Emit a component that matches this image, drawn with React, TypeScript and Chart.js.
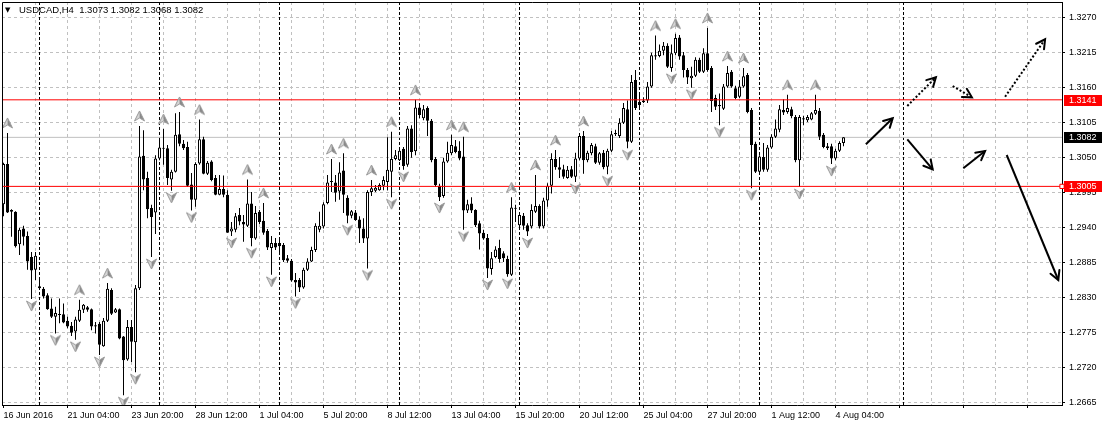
import React, { useEffect, useRef } from 'react';
import { Chart, registerables } from 'chart.js';

Chart.register(...registerables);

// ---- Data (USDCAD H4) ----
const openP = [
  1.2977, 1.3040, 1.2968, 1.2965, 1.2914, 1.2939, 1.2927, 1.2894, 1.2874, 1.2848,
  1.2844, 1.2834, 1.2813, 1.2800, 1.2804, 1.2804, 1.2794, 1.2786, 1.2777, 1.2794,
  1.2811, 1.2815, 1.2812, 1.2787, 1.2789, 1.2754, 1.2794, 1.2842, 1.2807, 1.2812,
  1.2769, 1.2733, 1.2784, 1.2760, 1.2845, 1.3053, 1.3018, 1.2971, 1.2964, 1.3049,
  1.3065, 1.3065, 1.3016, 1.3028, 1.3087, 1.3072, 1.3067, 1.3008, 1.2984, 1.3041,
  1.3079, 1.3025, 1.3044, 1.3018, 1.2992, 1.3001, 1.2992, 1.2934, 1.2937, 1.2960,
  1.2949, 1.2943, 1.2978, 1.2923, 1.2965, 1.2951, 1.2935, 1.2908, 1.2916, 1.2916,
  1.2913, 1.2892, 1.2888, 1.2858, 1.2858, 1.2846, 1.2874, 1.2887, 1.2905, 1.2937,
  1.2942, 1.2979, 1.3012, 1.3011, 1.2997, 1.3030, 1.2987, 1.2959, 1.2964, 1.2953,
  1.2939, 1.2923, 1.2996, 1.2998, 1.2999, 1.3006, 1.3012, 1.3028, 1.3048, 1.3046,
  1.3064, 1.3039, 1.3096, 1.3060, 1.3129, 1.3112, 1.3128, 1.3108, 1.3048, 1.3006,
  1.2990, 1.3044, 1.3057, 1.3068, 1.3061, 1.3052, 1.2967, 1.2978, 1.2968, 1.2947,
  1.2932, 1.2924, 1.2875, 1.2894, 1.2908, 1.2900, 1.2891, 1.2866, 1.2971, 1.2944,
  1.2959, 1.2944, 1.2942, 1.2965, 1.2974, 1.2942, 1.2983, 1.3006, 1.3048, 1.3035,
  1.3032, 1.3018, 1.3032, 1.3020, 1.3049, 1.3084, 1.3046, 1.3057, 1.3068, 1.3042,
  1.3058, 1.3036, 1.3061, 1.3089, 1.3084, 1.3105, 1.3126, 1.3075, 1.3172, 1.3138,
  1.3137, 1.3140, 1.3162, 1.3211, 1.3210, 1.3218, 1.3226, 1.3191, 1.3214, 1.3239,
  1.3211, 1.3188, 1.3175, 1.3179, 1.3204, 1.3185, 1.3214, 1.3191, 1.3144, 1.3133,
  1.3127, 1.3162, 1.3185, 1.3159, 1.3146, 1.3162, 1.3180, 1.3125, 1.3072, 1.3028,
  1.3051, 1.3031, 1.3066, 1.3083, 1.3094, 1.3125, 1.3122, 1.3126, 1.3114, 1.3046,
  1.3112, 1.3109, 1.3110, 1.3119, 1.3124, 1.3086, 1.3068, 1.3068, 1.3049, 1.3061,
  1.3073,
];
const highP = [
  1.3042, 1.3089, 1.2969, 1.2966, 1.2940, 1.2943, 1.2934, 1.2902, 1.2902, 1.2861,
  1.2847, 1.2837, 1.2829, 1.2816, 1.2829, 1.2821, 1.2800, 1.2792, 1.2800, 1.2827,
  1.2820, 1.2817, 1.2813, 1.2792, 1.2792, 1.2798, 1.2853, 1.2845, 1.2814, 1.2813,
  1.2770, 1.2795, 1.2795, 1.2850, 1.3100, 1.3093, 1.3028, 1.2976, 1.3054, 1.3078,
  1.3095, 1.3070, 1.3031, 1.3120, 1.3122, 1.3078, 1.3075, 1.3026, 1.3043, 1.3110,
  1.3083, 1.3045, 1.3046, 1.3023, 1.3023, 1.3022, 1.2999, 1.2949, 1.2963, 1.2971,
  1.2960, 1.3016, 1.2996, 1.2974, 1.2968, 1.2979, 1.2938, 1.2927, 1.2924, 1.2925,
  1.2916, 1.2897, 1.2891, 1.2869, 1.2861, 1.2877, 1.2892, 1.2910, 1.2947, 1.2965,
  1.2980, 1.3023, 1.3048, 1.3023, 1.3043, 1.3057, 1.2991, 1.2968, 1.2968, 1.2958,
  1.2955, 1.2999, 1.3015, 1.3007, 1.3010, 1.3021, 1.3082, 1.3091, 1.3062, 1.3065,
  1.3067, 1.3100, 1.3101, 1.3141, 1.3136, 1.3133, 1.3131, 1.3111, 1.3051, 1.3009,
  1.3050, 1.3075, 1.3086, 1.3078, 1.3076, 1.3083, 1.2984, 1.2988, 1.2969, 1.2951,
  1.2937, 1.2930, 1.2902, 1.2911, 1.2921, 1.2903, 1.2896, 1.2988, 1.2976, 1.2963,
  1.2963, 1.2947, 1.2977, 1.3023, 1.2977, 1.2987, 1.3010, 1.3057, 1.3062, 1.3051,
  1.3039, 1.3037, 1.3037, 1.3058, 1.3089, 1.3092, 1.3061, 1.3073, 1.3072, 1.3059,
  1.3062, 1.3064, 1.3092, 1.3094, 1.3112, 1.3136, 1.3140, 1.3180, 1.3188, 1.3149,
  1.3145, 1.3169, 1.3215, 1.3242, 1.3228, 1.3232, 1.3230, 1.3228, 1.3245, 1.3243,
  1.3216, 1.3191, 1.3193, 1.3208, 1.3207, 1.3222, 1.3254, 1.3194, 1.3149, 1.3151,
  1.3166, 1.3194, 1.3188, 1.3163, 1.3172, 1.3191, 1.3183, 1.3128, 1.3075, 1.3054,
  1.3073, 1.3070, 1.3087, 1.3110, 1.3133, 1.3142, 1.3149, 1.3130, 1.3117, 1.3117,
  1.3116, 1.3117, 1.3122, 1.3149, 1.3128, 1.3089, 1.3073, 1.3072, 1.3064, 1.3076,
  1.3082,
];
const lowP = [
  1.2958, 1.2963, 1.2926, 1.2909, 1.2897, 1.2912, 1.2874, 1.2828, 1.2858, 1.2842,
  1.2829, 1.2811, 1.2798, 1.2774, 1.2790, 1.2790, 1.2782, 1.2770, 1.2764, 1.2792,
  1.2806, 1.2808, 1.2779, 1.2774, 1.2740, 1.2753, 1.2792, 1.2803, 1.2806, 1.2765,
  1.2677, 1.2731, 1.2729, 1.2713, 1.2842, 1.2999, 1.2955, 1.2894, 1.2930, 1.3046,
  1.3039, 1.3007, 1.2998, 1.3027, 1.3068, 1.3062, 1.3004, 1.2967, 1.2973, 1.3039,
  1.3024, 1.3023, 1.3013, 1.2991, 1.2991, 1.2988, 1.2932, 1.2927, 1.2933, 1.2944,
  1.2918, 1.2941, 1.2911, 1.2921, 1.2946, 1.2929, 1.2905, 1.2866, 1.2905, 1.2902,
  1.2886, 1.2885, 1.2855, 1.2832, 1.2839, 1.2844, 1.2872, 1.2886, 1.2902, 1.2933,
  1.2939, 1.2977, 1.2996, 1.2981, 1.2984, 1.2963, 1.2947, 1.2955, 1.2951, 1.2916,
  1.2916, 1.2876, 1.2990, 1.2996, 1.2998, 1.2999, 1.2999, 1.2988, 1.3046, 1.3045,
  1.3031, 1.3036, 1.3050, 1.3054, 1.3112, 1.3109, 1.3084, 1.3043, 1.3004, 1.2982,
  1.2987, 1.3042, 1.3054, 1.3057, 1.3046, 1.2937, 1.2963, 1.2963, 1.2941, 1.2906,
  1.2921, 1.2861, 1.2866, 1.2892, 1.2885, 1.2886, 1.2863, 1.2864, 1.2949, 1.2941,
  1.2937, 1.2927, 1.2939, 1.2963, 1.2939, 1.2939, 1.2973, 1.2994, 1.3031, 1.3018,
  1.3017, 1.3017, 1.3018, 1.3012, 1.3046, 1.3025, 1.3043, 1.3054, 1.3040, 1.3039,
  1.3032, 1.3024, 1.3059, 1.3084, 1.3081, 1.3103, 1.3065, 1.3073, 1.3125, 1.3128,
  1.3136, 1.3136, 1.3160, 1.3204, 1.3208, 1.3211, 1.3191, 1.3185, 1.3211, 1.3204,
  1.3176, 1.3166, 1.3160, 1.3177, 1.3183, 1.3183, 1.3185, 1.3122, 1.3125, 1.3101,
  1.3125, 1.3160, 1.3160, 1.3142, 1.3144, 1.3160, 1.3120, 1.3002, 1.3026, 1.3026,
  1.3028, 1.3028, 1.3064, 1.3081, 1.3090, 1.3117, 1.3119, 1.3112, 1.3043, 1.3004,
  1.3101, 1.3106, 1.3109, 1.3117, 1.3078, 1.3065, 1.3062, 1.3040, 1.3046, 1.3059,
  1.3068,
];
const closeP = [
  1.3040, 1.2964, 1.2965, 1.2911, 1.2937, 1.2926, 1.2887, 1.2873, 1.2896, 1.2845,
  1.2832, 1.2812, 1.2800, 1.2806, 1.2803, 1.2791, 1.2785, 1.2775, 1.2796, 1.2811,
  1.2819, 1.2811, 1.2785, 1.2785, 1.2756, 1.2794, 1.2844, 1.2805, 1.2812, 1.2766,
  1.2732, 1.2784, 1.2761, 1.2845, 1.3052, 1.3016, 1.2969, 1.2957, 1.3049, 1.3066,
  1.3064, 1.3018, 1.3028, 1.3086, 1.3072, 1.3065, 1.3006, 1.2984, 1.3040, 1.3079,
  1.3025, 1.3042, 1.3015, 1.2992, 1.3001, 1.2992, 1.2932, 1.2939, 1.2958, 1.2950,
  1.2945, 1.2978, 1.2924, 1.2963, 1.2949, 1.2932, 1.2909, 1.2916, 1.2909, 1.2911,
  1.2889, 1.2888, 1.2857, 1.2854, 1.2846, 1.2874, 1.2887, 1.2905, 1.2943, 1.2943,
  1.2977, 1.3011, 1.3013, 1.2995, 1.3027, 1.2992, 1.2959, 1.2966, 1.2952, 1.2939,
  1.2923, 1.2996, 1.3002, 1.3003, 1.3007, 1.3015, 1.3031, 1.3048, 1.3054, 1.3061,
  1.3037, 1.3096, 1.3059, 1.3129, 1.3117, 1.3126, 1.3108, 1.3046, 1.3007, 1.2988,
  1.3044, 1.3058, 1.3070, 1.3059, 1.3049, 1.2967, 1.2977, 1.2967, 1.2944, 1.2931,
  1.2923, 1.2876, 1.2892, 1.2906, 1.2891, 1.2892, 1.2867, 1.2972, 1.2970, 1.2960,
  1.2943, 1.2934, 1.2968, 1.2974, 1.2942, 1.2983, 1.3006, 1.3048, 1.3035, 1.3031,
  1.3020, 1.3031, 1.3020, 1.3049, 1.3084, 1.3046, 1.3058, 1.3070, 1.3042, 1.3057,
  1.3035, 1.3061, 1.3087, 1.3087, 1.3105, 1.3128, 1.3075, 1.3169, 1.3128, 1.3133,
  1.3140, 1.3162, 1.3211, 1.3209, 1.3218, 1.3226, 1.3193, 1.3214, 1.3238, 1.3209,
  1.3188, 1.3176, 1.3179, 1.3204, 1.3185, 1.3214, 1.3188, 1.3139, 1.3130, 1.3131,
  1.3162, 1.3183, 1.3162, 1.3144, 1.3162, 1.3178, 1.3122, 1.3070, 1.3028, 1.3052,
  1.3031, 1.3066, 1.3083, 1.3096, 1.3126, 1.3121, 1.3128, 1.3115, 1.3046, 1.3114,
  1.3110, 1.3114, 1.3120, 1.3125, 1.3083, 1.3067, 1.3065, 1.3049, 1.3061, 1.3073,
  1.3082,
];

const timeLabels = [
  '16 Jun 2016', '21 Jun 04:00', '23 Jun 20:00', '28 Jun 12:00', '1 Jul 04:00',
  '5 Jul 20:00', '8 Jul 12:00', '13 Jul 04:00', '15 Jul 20:00', '20 Jul 12:00',
  '25 Jul 04:00', '27 Jul 20:00', '1 Aug 12:00', '4 Aug 04:00',
];
const priceTicks = [
  1.2665, 1.2720, 1.2775, 1.2830, 1.2885, 1.2940, 1.2995, 1.3050, 1.3105, 1.3160, 1.3215, 1.3270,
];
const upFractals = [
  1, 19, 26, 34, 40, 44, 49, 61, 65, 82, 85, 92, 97, 103, 112, 115, 127, 133, 138, 145,
  163, 168, 176, 181, 185, 196, 203,
];
const downFractals = [
  7, 13, 18, 24, 30, 33, 37, 42, 47, 57, 62, 67, 73, 86, 91, 97, 100, 109, 115, 121, 126,
  131, 143, 151, 156, 167, 172, 179, 187, 199, 207,
];
const separatorBars = [9, 39, 69, 99, 129, 159, 189, 225];
const redLevels = [1.3141, 1.3005];
const solidArrows = [
  [{ x: 215.6, y: 1.30711 }, { x: 222.3, y: 1.3112 }],
  [{ x: 225.95, y: 1.3079 }, { x: 232.3, y: 1.30318 }],
  [{ x: 239.95, y: 1.30334 }, { x: 245.4, y: 1.30606 }],
  [{ x: 250.8, y: 1.30543 }, { x: 263.7, y: 1.28579 }],
];
const dottedArrows = [
  [{ x: 225.95, y: 1.31313 }, { x: 233.1, y: 1.31764 }],
  [{ x: 237.3, y: 1.31627 }, { x: 242.1, y: 1.31449 }],
  [{ x: 250.4, y: 1.31459 }, { x: 260.4, y: 1.32361 }],
];

const X_MIN = -0.375;
const X_MAX = 264.625;
const Y_MIN = 1.26615;
const Y_MAX = 1.32947;
const FONT = '"Liberation Sans", Arial, sans-serif';

function makeFractalIcon(up: boolean): HTMLCanvasElement {
  const c = document.createElement('canvas');
  c.width = 11;
  c.height = up ? 32 : 26;
  const g = c.getContext('2d')!;
  const cx = 5.5;
  const apexY = up ? 1 : 25;
  const baseY = up ? 11 : 15;
  const notchY = up ? 8 : 18;
  g.beginPath();
  g.moveTo(cx, apexY);
  g.lineTo(0.5, baseY);
  g.lineTo(cx, notchY);
  g.closePath();
  g.fillStyle = '#d6d6d6';
  g.fill();
  g.beginPath();
  g.moveTo(cx, apexY);
  g.lineTo(10.5, baseY);
  g.lineTo(cx, notchY);
  g.closePath();
  g.fillStyle = '#8a8a8a';
  g.fill();
  g.beginPath();
  g.moveTo(cx, apexY);
  g.lineTo(0.5, baseY);
  g.lineTo(cx, notchY);
  g.lineTo(10.5, baseY);
  g.closePath();
  g.strokeStyle = '#999999';
  g.lineWidth = 1;
  g.stroke();
  return c;
}

const decorPlugin = {
  id: 'mtDecor',
  beforeDatasetsDraw(chart: any) {
    const { ctx, chartArea, scales } = chart;
    const xs = scales.x;
    ctx.save();
    ctx.strokeStyle = '#000000';
    ctx.lineWidth = 1;
    ctx.setLineDash([3, 2]);
    separatorBars.forEach((b) => {
      const px = Math.floor(xs.getPixelForValue(b)) + 0.5;
      ctx.beginPath();
      ctx.moveTo(px, chartArea.top);
      ctx.lineTo(px, chartArea.bottom);
      ctx.stroke();
    });
    ctx.restore();
  },
  afterDatasetsDraw(chart: any) {
    const { ctx } = chart;
    chart.data.datasets.forEach((ds: any, i: number) => {
      if (!ds.arrowHead) return;
      const meta = chart.getDatasetMeta(i);
      const p0 = meta.data[0];
      const p1 = meta.data[meta.data.length - 1];
      const ang = Math.atan2(p1.y - p0.y, p1.x - p0.x);
      const len = 10;
      const spread = 0.5;
      ctx.save();
      ctx.strokeStyle = '#000000';
      ctx.lineWidth = 2;
      ctx.setLineDash([]);
      ctx.lineCap = 'round';
      ctx.beginPath();
      ctx.moveTo(p1.x - len * Math.cos(ang - spread), p1.y - len * Math.sin(ang - spread));
      ctx.lineTo(p1.x, p1.y);
      ctx.lineTo(p1.x - len * Math.cos(ang + spread), p1.y - len * Math.sin(ang + spread));
      ctx.stroke();
      ctx.restore();
    });
  },
  afterDraw(chart: any) {
    const { ctx, chartArea, scales } = chart;
    const ys = scales.y;
    ctx.save();
    // frame (left + top)
    ctx.strokeStyle = '#000000';
    ctx.lineWidth = 1;
    ctx.setLineDash([]);
    ctx.beginPath();
    ctx.moveTo(chartArea.left + 0.5, chartArea.bottom);
    ctx.lineTo(chartArea.left + 0.5, chartArea.top + 0.5);
    ctx.lineTo(chartArea.right, chartArea.top + 0.5);
    ctx.stroke();

    // price boxes on the axis
    const last = closeP.length - 1;
    const boxes = [
      { v: redLevels[0], bg: '#ff0000' },
      { v: closeP[last], bg: '#000000' },
      { v: redLevels[1], bg: '#ff0000' },
    ];
    ctx.font = `9px ${FONT}`;
    ctx.textBaseline = 'middle';
    ctx.textAlign = 'left';
    boxes.forEach((b) => {
      const y = Math.round(ys.getPixelForValue(b.v));
      ctx.fillStyle = b.bg;
      ctx.fillRect(chartArea.right + 2, y - 5, chart.width - chartArea.right - 2, 11);
      ctx.fillStyle = '#ffffff';
      ctx.fillText(b.v.toFixed(4), chartArea.right + 7, y + 0.5);
    });

    // header
    ctx.fillStyle = '#000000';
    ctx.font = `7px "DejaVu Sans", sans-serif`;
    ctx.fillText('\u25BC', 5, 10);
    ctx.font = `9.5px ${FONT}`;
    const hdr = `USDCAD,H4  ${openP[last].toFixed(4)} ${highP[last].toFixed(4)} ${lowP[last].toFixed(4)} ${closeP[last].toFixed(4)}`;
    ctx.fillText(hdr, 19, 10.5);
    ctx.restore();
  },
};

export default function App() {
  const ref = useRef<HTMLCanvasElement>(null);

  useEffect(() => {
    const canvas = ref.current;
    if (!canvas) return;
    const upIcon = makeFractalIcon(true);
    const downIcon = makeFractalIcon(false);

    const gridTicks: number[] = [];
    for (let v = 0; v <= 256; v += 8) gridTicks.push(v);

    const datasets: any[] = [];

    datasets.push({
      type: 'line',
      label: 'bid',
      data: [{ x: X_MIN, y: closeP[closeP.length - 1] }, { x: X_MAX, y: closeP[closeP.length - 1] }],
      borderColor: '#c0c0c0',
      borderWidth: 1,
      pointRadius: 0,
      order: 10,
    });

    datasets.push({
      type: 'bar',
      label: 'wicks',
      data: lowP.map((l, i) => ({ x: i, y: [l, highP[i]] })),
      backgroundColor: '#000000',
      borderWidth: 0,
      barThickness: 1,
      grouped: false,
      inflateAmount: 0,
      order: 7,
    });

    datasets.push({
      type: 'bar',
      label: 'bodies',
      data: openP.map((o, i) => ({ x: i, y: [o, closeP[i]] })),
      backgroundColor: (c: any) =>
        closeP[c.dataIndex] >= openP[c.dataIndex] ? '#ffffff' : '#000000',
      borderColor: '#000000',
      borderWidth: 1,
      borderSkipped: false,
      barThickness: 3,
      minBarLength: 1,
      grouped: false,
      inflateAmount: 0,
      order: 6,
    });

    redLevels.forEach((lv, k) => {
      datasets.push({
        type: 'line',
        label: 'level' + k,
        data: [{ x: X_MIN, y: lv }, { x: X_MAX, y: lv }],
        borderColor: '#ff0000',
        borderWidth: 1,
        pointRadius: k === 1 ? [0, 3] : 0,
        pointStyle: 'rect',
        pointBackgroundColor: '#ffffff',
        pointBorderColor: '#ff0000',
        pointBorderWidth: 1,
        clip: false,
        order: 5,
      });
    });

    datasets.push({
      type: 'line',
      label: 'fractalUp',
      data: upFractals.map((i) => ({ x: i, y: highP[i] })),
      showLine: false,
      pointStyle: upIcon,
      pointRadius: 2,
      order: 4,
    });
    datasets.push({
      type: 'line',
      label: 'fractalDown',
      data: downFractals.map((i) => ({ x: i, y: lowP[i] })),
      showLine: false,
      pointStyle: downIcon,
      pointRadius: 2,
      order: 4,
    });

    solidArrows.forEach((a, k) => {
      datasets.push({
        type: 'line',
        label: 'solid' + k,
        data: a,
        borderColor: '#000000',
        borderWidth: 2,
        pointRadius: 0,
        arrowHead: true,
        clip: false,
        order: 2,
      });
    });
    dottedArrows.forEach((a, k) => {
      datasets.push({
        type: 'line',
        label: 'dotted' + k,
        data: a,
        borderColor: '#000000',
        borderWidth: 2,
        borderDash: [2, 2],
        pointRadius: 0,
        arrowHead: true,
        clip: false,
        order: 2,
      });
    });

    const chart = new Chart(canvas, {
      type: 'bar',
      data: { datasets },
      plugins: [decorPlugin],
      options: {
        responsive: false,
        animation: false,
        devicePixelRatio: 1,
        events: [],
        layout: { autoPadding: false, padding: { left: 2, top: 2, right: 0, bottom: 0 } },
        plugins: { legend: { display: false }, tooltip: { enabled: false } },
        elements: { line: { tension: 0 } },
        scales: {
          x: {
            type: 'linear',
            min: X_MIN,
            max: X_MAX,
            offset: false,
            afterBuildTicks: (s: any) => {
              s.ticks = gridTicks.map((v) => ({ value: v }));
            },
            afterFit: (s: any) => {
              s.height = 22;
              s.paddingLeft = 0;
              s.paddingRight = 0;
            },
            grid: {
              offset: false,
              color: (c: any) => (c.tick && c.tick.value === 0 ? 'rgba(0,0,0,0)' : '#c0c0c0'),
              lineWidth: 1,
              tickLength: 3,
              tickColor: (c: any) => (c.tick && c.tick.value % 16 === 0 ? '#000000' : 'rgba(0,0,0,0)'),
              tickBorderDash: [],
            },
            border: { display: true, color: '#000000', width: 1, dash: [3, 3] },
            ticks: {
              autoSkip: false,
              maxRotation: 0,
              minRotation: 0,
              align: 'start',
              padding: 2,
              color: '#000000',
              font: { family: FONT, size: 9 },
              callback: (v: any) => {
                const n = Number(v);
                if (n % 16 !== 0) return '';
                return timeLabels[n / 16] || '';
              },
            },
          },
          y: {
            type: 'linear',
            position: 'right',
            min: Y_MIN,
            max: Y_MAX,
            afterBuildTicks: (s: any) => {
              s.ticks = priceTicks.map((v) => ({ value: v }));
            },
            afterFit: (s: any) => {
              s.width = 40;
              s.paddingTop = 0;
              s.paddingBottom = 0;
            },
            grid: {
              color: '#c0c0c0',
              lineWidth: 1,
              tickLength: 3,
              tickColor: '#000000',
              tickBorderDash: [],
            },
            border: { display: true, color: '#000000', width: 1, dash: [3, 3] },
            ticks: {
              padding: 4,
              color: '#000000',
              font: { family: FONT, size: 9 },
              callback: (v: any) => Number(v).toFixed(4),
            },
          },
        },
      } as any,
    });

    return () => chart.destroy();
  }, []);

  return (
    <div
      style={{
        position: 'fixed',
        left: 0,
        top: 0,
        width: 1102,
        height: 427,
        background: '#ffffff',
      }}
    >
      <canvas ref={ref} width={1102} height={427} style={{ display: 'block', width: 1102, height: 427 }} />
    </div>
  );
}
